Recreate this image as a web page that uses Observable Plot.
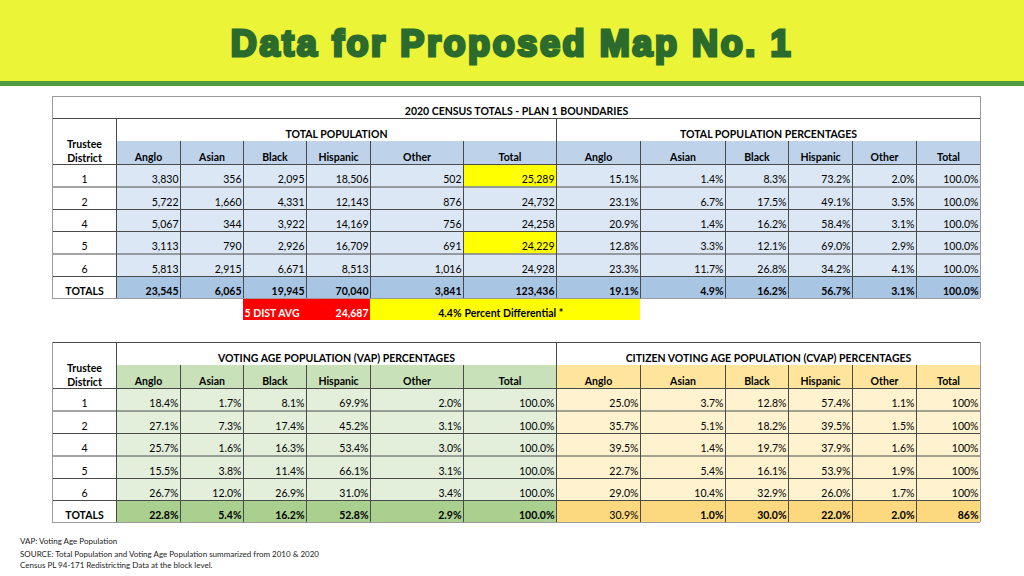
<!DOCTYPE html>
<html>
<head>
<meta charset="utf-8">
<script src="https://cdn.jsdelivr.net/npm/d3@7"></script>
<script src="https://cdn.jsdelivr.net/npm/@observablehq/plot@0.6"></script>
<style>
  html, body { margin: 0; padding: 0; }
  body { width: 1024px; height: 576px; position: relative; overflow: hidden; background: #fff; font-family: Lato, sans-serif; }
  #hdr { position: absolute; left: 0; top: 0; width: 1024px; height: 81px; background: #ecf437; border-bottom: 5px solid #4e9a3e; }
  #title { position: absolute; left: 0; top: 26px; width: 1024px; text-align: center; font-family: "Liberation Sans", Arial, sans-serif; font-weight: bold; font-size: 36px; line-height: 36px; letter-spacing: 2.6px; color: #2b6b2d; -webkit-text-stroke: 3px #2b6b2d; }
  #chart { position: absolute; left: 0; top: 0; }
  #foot { position: absolute; left: 20px; top: 535px; font-family: Lato, sans-serif; font-size: 8px; line-height: 12px; color: #222; }
  #foot div:first-child { margin-bottom: 1px; }
  #foot .l3 { margin-top: -1.5px; }
</style>
</head>
<body>
<div id="hdr"></div>
<div id="title">Data for Proposed Map No. 1</div>
<div id="chart"></div>
<div id="foot">
  <div>VAP: Voting Age Population</div>
  <div>SOURCE: Total Population and Voting Age Population summarized from 2010 &amp; 2020</div>
  <div class="l3">Census PL 94-171 Redistricting Data at the block level.</div>
</div>
<script>
// ---------------- DATA ----------------
const tableTitle = "2020 CENSUS TOTALS - PLAN 1 BOUNDARIES";
const sectionTitles = [
  "TOTAL POPULATION",
  "TOTAL POPULATION PERCENTAGES",
  "VOTING AGE POPULATION (VAP) PERCENTAGES",
  "CITIZEN VOTING AGE POPULATION (CVAP) PERCENTAGES"
];
const districts = ["1", "2", "4", "5", "6"];
const groups = ["Anglo", "Asian", "Black", "Hispanic", "Other", "Total"];

const totalPop = [
  [3830, 356, 2095, 18506, 502, 25289],
  [5722, 1660, 4331, 12143, 876, 24732],
  [5067, 344, 3922, 14169, 756, 24258],
  [3113, 790, 2926, 16709, 691, 24229],
  [5813, 2915, 6671, 8513, 1016, 24928]
];
const totalPopSum = [23545, 6065, 19945, 70040, 3841, 123436];

const totalPct = [
  [15.1, 1.4, 8.3, 73.2, 2.0, 100.0],
  [23.1, 6.7, 17.5, 49.1, 3.5, 100.0],
  [20.9, 1.4, 16.2, 58.4, 3.1, 100.0],
  [12.8, 3.3, 12.1, 69.0, 2.9, 100.0],
  [23.3, 11.7, 26.8, 34.2, 4.1, 100.0]
];
const totalPctSum = [19.1, 4.9, 16.2, 56.7, 3.1, 100.0];

const vapPct = [
  [18.4, 1.7, 8.1, 69.9, 2.0, 100.0],
  [27.1, 7.3, 17.4, 45.2, 3.1, 100.0],
  [25.7, 1.6, 16.3, 53.4, 3.0, 100.0],
  [15.5, 3.8, 11.4, 66.1, 3.1, 100.0],
  [26.7, 12.0, 26.9, 31.0, 3.4, 100.0]
];
const vapPctSum = [22.8, 5.4, 16.2, 52.8, 2.9, 100.0];

const cvapPct = [
  [25.0, 3.7, 12.8, 57.4, 1.1, 100],
  [35.7, 5.1, 18.2, 39.5, 1.5, 100],
  [39.5, 1.4, 19.7, 37.9, 1.6, 100],
  [22.7, 5.4, 16.1, 53.9, 1.9, 100],
  [29.0, 10.4, 32.9, 26.0, 1.7, 100]
];
const cvapPctSum = [30.9, 1.0, 30.0, 22.0, 2.0, 86];

const highlightedDistricts = ["1", "5"];
const fiveDistAvg = 24687;
const pctDifferential = 4.4;

// ---------------- LAYOUT (grid edges in pixels) ----------------
const colEdges = [52, 116, 180, 243, 306, 370, 463, 556, 640, 725, 788, 852, 916, 980];
const rowEdges = [96, 118, 141, 164, 186.5, 209, 231, 253.5, 276, 298, 320,
                  342, 365, 388, 410.5, 433, 455.5, 478, 500, 522];
const xs = d3.scaleLinear(d3.range(colEdges.length), colEdges);
const mid = (a, b) => xs.invert((xs(a) + xs(b)) / 2);

const C = {
  blueHead: "#bed3ea", blueData: "#dbe7f4", blueTot: "#a9c5e4",
  yellow: "#ffff00", red: "#ff0000",
  vapHead: "#c8e1b8", vapData: "#e3efdb", vapTot: "#a9d08e",
  cvapHead: "#ffe59c", cvapData: "#fff2ce", cvapTot: "#fcd97e",
  inner: "#4a4a4a", outer: "#9a9a9a"
};

const fmtInt = d3.format(",");
const fmtPct = v => d3.format(".1f")(v) + "%";
const fmtPct0 = v => d3.format(".0f")(v) + "%";

// ---------------- CELLS ----------------
const cells = [];
const band = (r, c1, c2, fill) => cells.push({r1: r, r2: r + 1, c1, c2, fill});

// table 1
band(2, 1, 13, C.blueHead);
districts.forEach((d, i) => {
  band(3 + i, 1, 13, C.blueData);
  if (highlightedDistricts.includes(d)) band(3 + i, 6, 7, C.yellow);
});
band(8, 1, 13, C.blueTot);
band(9, 3, 5, C.red);
band(9, 5, 8, C.yellow);
// table 2
band(12, 1, 7, C.vapHead); band(12, 7, 13, C.cvapHead);
districts.forEach((d, i) => { band(13 + i, 1, 7, C.vapData); band(13 + i, 7, 13, C.cvapData); });
band(18, 1, 7, C.vapTot); band(18, 7, 13, C.cvapTot);

// ---------------- LINES ----------------
const hLines = [], vLines = [];
// table 1
hLines.push({y: 0, c1: 0, c2: 13, s: C.outer});
hLines.push({y: 1, c1: 0, c2: 13, s: C.inner});
for (let r = 3; r <= 8; r++) hLines.push({y: r, c1: 0, c2: 13, s: C.inner});
hLines.push({y: 9, c1: 0, c2: 13, s: C.outer});
vLines.push({x: 0, r1: 0, r2: 9, s: C.outer}, {x: 13, r1: 0, r2: 9, s: C.outer});
vLines.push({x: 1, r1: 1, r2: 9, s: C.inner}, {x: 7, r1: 1, r2: 9, s: C.inner});
[2, 3, 4, 5, 6, 8, 9, 10, 11, 12].forEach(c => vLines.push({x: c, r1: 2, r2: 9, s: C.inner}));
// table 2
hLines.push({y: 11, c1: 0, c2: 13, s: C.inner});
for (let r = 13; r <= 18; r++) hLines.push({y: r, c1: 0, c2: 13, s: C.inner});
hLines.push({y: 19, c1: 0, c2: 13, s: C.outer});
vLines.push({x: 0, r1: 11, r2: 19, s: C.outer}, {x: 13, r1: 11, r2: 19, s: C.outer});
vLines.push({x: 1, r1: 11, r2: 19, s: C.inner}, {x: 7, r1: 11, r2: 19, s: C.inner});
[2, 3, 4, 5, 6, 8, 9, 10, 11, 12].forEach(c => vLines.push({x: c, r1: 12, r2: 19, s: C.inner}));

// ---------------- TEXTS (y = bottom edge of the row) ----------------
const texts = [];
const t = (x, y, text, anchor = "middle", weight = "normal", fill = "#000") =>
  texts.push({x, y, text, anchor, weight, fill});

t(mid(0, 13), 1, tableTitle, "middle", "bold");
t(mid(1, 7), 2, sectionTitles[0], "middle", "bold");
t(mid(7, 13), 2, sectionTitles[1], "middle", "bold");
t(mid(1, 7), 12, sectionTitles[2], "middle", "bold");
t(mid(7, 13), 12, sectionTitles[3], "middle", "bold");

groups.forEach((g, j) => {
  [3, 13].forEach(y => {
    t(mid(1 + j, 2 + j), y, g, "middle", "bold");
    t(mid(7 + j, 8 + j), y, g, "middle", "bold");
  });
});

districts.forEach((d, i) => {
  t(mid(0, 1), 4 + i, d);
  t(mid(0, 1), 14 + i, d);
  groups.forEach((g, j) => {
    t(2 + j, 4 + i, fmtInt(totalPop[i][j]), "end");
    t(8 + j, 4 + i, fmtPct(totalPct[i][j]), "end");
    t(2 + j, 14 + i, fmtPct(vapPct[i][j]), "end");
    t(8 + j, 14 + i, (j === 5 ? fmtPct0 : fmtPct)(cvapPct[i][j]), "end");
  });
});
t(mid(0, 1), 9, "TOTALS", "middle", "bold");
t(mid(0, 1), 19, "TOTALS", "middle", "bold");
groups.forEach((g, j) => {
  t(2 + j, 9, fmtInt(totalPopSum[j]), "end", "bold");
  t(8 + j, 9, fmtPct(totalPctSum[j]), "end", "bold");
  t(2 + j, 19, fmtPct(vapPctSum[j]), "end", "bold");
  t(8 + j, 19, (j === 5 ? fmtPct0 : fmtPct)(cvapPctSum[j]), "end", j === 0 ? "normal" : "bold");
});
t(3, 10, "5 DIST AVG", "start", "bold", "#fff");
t(5, 10, fmtInt(fiveDistAvg), "end", "bold", "#fff");
t(6, 10, fmtPct(pctDifferential), "end", "bold");
t(6, 10, "Percent Differential *", "start", "bold");

const FONT = "Lato, 'Open Sans', sans-serif";
const FS = 10.5;
const textMarks = [];
for (const anchor of ["start", "middle", "end"]) {
  for (const weight of ["normal", "bold"]) {
    const sub = texts.filter(d => d.anchor === anchor && d.weight === weight);
    if (!sub.length) continue;
    textMarks.push(Plot.text(sub, {
      x: "x", y: "y", text: "text", fill: "fill",
      textAnchor: anchor, fontWeight: weight,
      dx: anchor === "end" ? -2 : anchor === "start" ? 1 : 0,
      dy: -7, lineAnchor: "middle",
      fontSize: FS, fontFamily: FONT
    }));
  }
}
const trustee = [{x: mid(0, 1), y: 3}, {x: mid(0, 1), y: 13}];

const chart = Plot.plot({
  width: 1024,
  height: 576,
  margin: 0,
  style: {background: "transparent"},
  x: {type: "linear", domain: d3.range(colEdges.length), range: colEdges, axis: null},
  y: {type: "linear", domain: d3.range(rowEdges.length), range: rowEdges, axis: null},
  color: {type: "identity"},
  marks: [
    Plot.rect(cells, {x1: "c1", x2: "c2", y1: "r1", y2: "r2", fill: "fill"}),
    Plot.ruleY(hLines, {y: "y", x1: "c1", x2: "c2", stroke: "s", strokeWidth: 1}),
    Plot.ruleX(vLines, {x: "x", y1: "r1", y2: "r2", stroke: "s", strokeWidth: 1}),
    ...textMarks,
    Plot.text(trustee, {x: "x", y: "y", text: () => "Trustee\nDistrict", fontWeight: "bold",
      fontSize: FS, fontFamily: FONT, lineHeight: 1.33, lineAnchor: "middle", dy: -14, fill: "#000"})
  ]
});
document.getElementById("chart").appendChild(chart);
</script>
</body>
</html>
